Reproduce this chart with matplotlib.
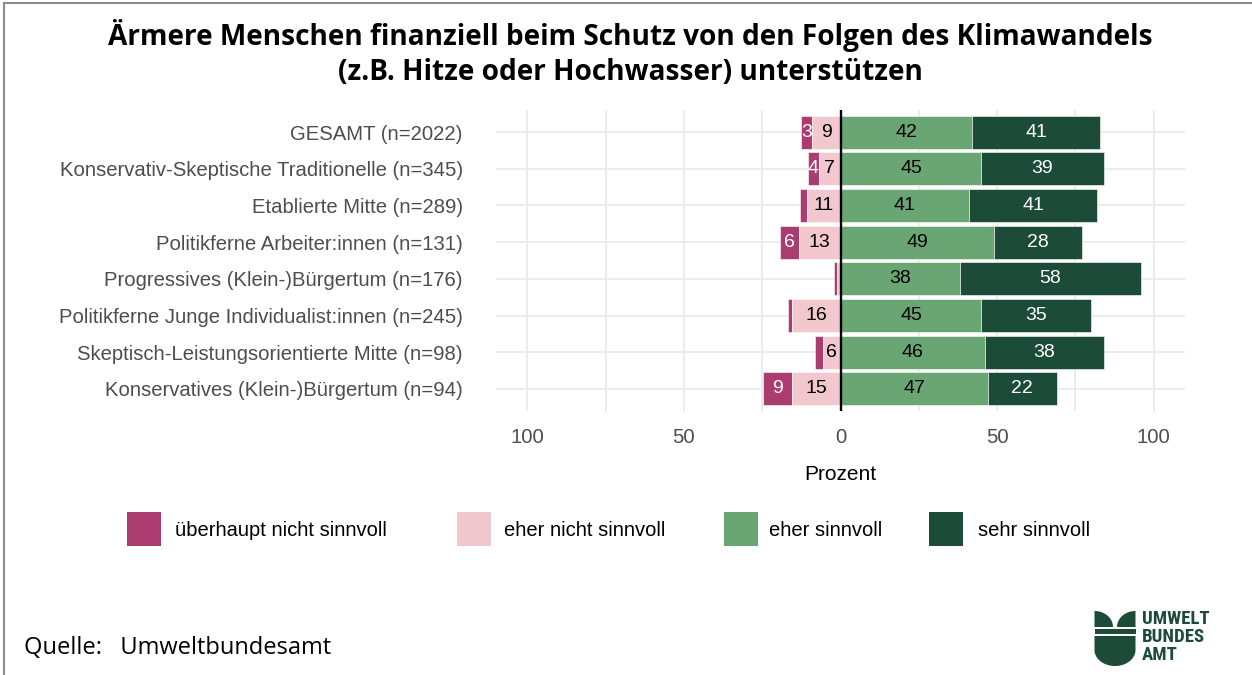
import matplotlib
matplotlib.use("Agg")
import matplotlib.pyplot as plt
from matplotlib.patches import Rectangle, Polygon
from matplotlib.lines import Line2D
import numpy as np

# ---------------- data ----------------
categories = [
    "GESAMT (n=2022)",
    "Konservativ-Skeptische Traditionelle (n=345)",
    "Etablierte Mitte (n=289)",
    "Politikferne Arbeiter:innen (n=131)",
    "Progressives (Klein-)Bürgertum (n=176)",
    "Politikferne Junge Individualist:innen (n=245)",
    "Skeptisch-Leistungsorientierte Mitte (n=98)",
    "Konservatives (Klein-)Bürgertum (n=94)",
]
ueberhaupt_nicht = [3.4, 3.5, 2.4, 6.2, 1.0, 1.3, 2.7, 9.4]
eher_nicht = [9.2, 7.0, 10.6, 13.2, 1.0, 15.6, 5.5, 15.4]
eher_sinnvoll = [42, 45, 41, 49, 38, 45, 46, 47]
sehr_sinnvoll = [41, 39, 41, 28, 58, 35, 38, 22]

series_names = ["überhaupt nicht sinnvoll", "eher nicht sinnvoll",
                "eher sinnvoll", "sehr sinnvoll"]
series_colors = ["#AB3C70", "#F2C7CD", "#69A673", "#1C4B37"]
label_colors = ["white", "black", "black", "white"]

xticks = [-100, -50, 0, 50, 100]
xticklabels = ["100", "50", "0", "50", "100"]
minor_xticks = [-75, -25, 25, 75]

title_lines = ["Ärmere Menschen finanziell beim Schutz von den Folgen des Klimawandels",
               "(z.B. Hitze oder Hochwasser) unterstützen"]
x_title = "Prozent"
source_text = "Quelle:   Umweltbundesamt"

# ---------------- figure ----------------
W, H = 1252, 675
fig = plt.figure(figsize=(W / 100, H / 100), dpi=100)
fig.patch.set_facecolor("white")

def fx(px):
    return px / W

def fy(py):
    return 1 - py / H

ax = fig.add_axes([fx(496), fy(411), fx(1185) - fx(496), fy(110) - fy(411)])
ax.set_facecolor("white")

y = np.arange(len(categories))
un = np.array(ueberhaupt_nicht, dtype=float)
en = np.array(eher_nicht, dtype=float)
es = np.array(eher_sinnvoll, dtype=float)
ss = np.array(sehr_sinnvoll, dtype=float)

segments = [
    (un, -(en + un)),
    (en, -en),
    (es, np.zeros_like(es)),
    (ss, es),
]

bar_h = 0.9
for (vals, lefts), col, lcol in zip(segments, series_colors, label_colors):
    ax.barh(y, vals, left=lefts, height=bar_h, color=col,
            edgecolor="white", linewidth=0.4, zorder=2)
    for yi, v, l in zip(y, vals, lefts):
        if v >= 3:
            ax.text(l + v / 2, yi, f"{int(np.floor(v + 0.5))}", ha="center", va="center",
                    fontsize=14, color=lcol, family="Liberation Sans", zorder=4)

ax.axvline(0, color="black", lw=1.7, zorder=3)

ax.set_xlim(-110, 110)
ax.set_ylim(len(categories) - 1 + 0.6, -0.6)
ax.set_xticks(xticks)
ax.set_xticklabels(xticklabels)
ax.set_xticks(minor_xticks, minor=True)
ax.set_yticks(y)
ax.set_yticklabels(categories)

ax.grid(which="major", axis="both", color="#EBEBEB", lw=1.3, zorder=0)
ax.grid(which="minor", axis="x", color="#EBEBEB", lw=1.3, zorder=0)
ax.set_axisbelow(True)
for s in ax.spines.values():
    s.set_visible(False)
ax.tick_params(axis="both", which="both", length=0)
ax.tick_params(axis="y", pad=24, labelsize=14.6, labelcolor="#4D4D4D")
ax.tick_params(axis="x", pad=12, labelsize=14.6, labelcolor="#4D4D4D")
for lab in ax.get_xticklabels() + ax.get_yticklabels():
    lab.set_family("Liberation Sans")

ax.set_xlabel(x_title, fontsize=15, family="Liberation Sans", color="black")
ax.xaxis.set_label_coords(0.5, -(475 - 411) / 301)
ax.xaxis.label.set_va("center")

# ---------------- title ----------------
fig.text(fx(630), fy(36), title_lines[0], ha="center", va="center",
         fontsize=20.2, fontweight="bold", family="Open Sans")
fig.text(fx(630), fy(73), title_lines[1], ha="center", va="center",
         fontsize=20.2, fontweight="bold", family="Open Sans")

# ---------------- legend (manual) ----------------
key_x = [127, 457, 724, 929]
text_x = [175, 504, 769, 978]
key_top, key_size = 512, 34
for kx, tx, name, col in zip(key_x, text_x, series_names, series_colors):
    fig.patches.append(Rectangle((fx(kx), fy(key_top + key_size)), fx(key_size),
                                 key_size / H, transform=fig.transFigure,
                                 facecolor=col, edgecolor="none"))
    fig.text(fx(tx), fy(530), name, ha="left", va="center", fontsize=14.5,
             family="Liberation Sans", color="black")

# ---------------- source ----------------
fig.text(fx(24), fy(648), source_text, ha="left", va="center", fontsize=17,
         family="Open Sans", color="black")

# ---------------- border ----------------
fig.lines.append(Line2D([fx(4), 1], [fy(3), fy(3)], transform=fig.transFigure,
                        color="#8C8C8C", lw=1.5))
fig.lines.append(Line2D([fx(4), fx(4)], [0, fy(3)], transform=fig.transFigure,
                        color="#8C8C8C", lw=1.5))

# ---------------- logo ----------------
logo_col = "#1C4B37"
lax = fig.add_axes([fx(1093), fy(667), fx(44), 57 / H])
lax.set_xlim(0, 44)
lax.set_ylim(0, 57)
lax.axis("off")
t = np.linspace(0, np.pi / 2, 30)
lw_, lh_ = 18.5, 16
pts = [(1.5, 40)] + [(1.5 + lw_ * np.sin(a), 40 + lh_ * np.cos(a)) for a in t]
lax.add_patch(Polygon(pts, closed=True, facecolor=logo_col, edgecolor="none"))
pts = [(42.5, 40)] + [(42.5 - lw_ * np.sin(a), 40 + lh_ * np.cos(a)) for a in t]
lax.add_patch(Polygon(pts, closed=True, facecolor=logo_col, edgecolor="none"))
lax.add_patch(Rectangle((1.5, 33), 41, 5, facecolor=logo_col, edgecolor="none"))
tt = np.linspace(np.pi, 2 * np.pi, 60)
bowl = [(1.5, 31)] + [(22 + 20.5 * np.cos(a), 17 + 16 * np.sin(a)) for a in tt] + [(42.5, 31)]
lax.add_patch(Polygon(bowl, closed=True, facecolor=logo_col, edgecolor="none"))

for i, word in enumerate(["UMWELT", "BUNDES", "AMT"]):
    fig.text(fx(1142), fy(619 + 18 * i), word, ha="left", va="center",
             fontsize=13.5, fontweight="bold", color=logo_col,
             family=["Liberation Sans Narrow", "Roboto Condensed", "Liberation Sans"])

fig.savefig("out.png", dpi=100, facecolor="white")
